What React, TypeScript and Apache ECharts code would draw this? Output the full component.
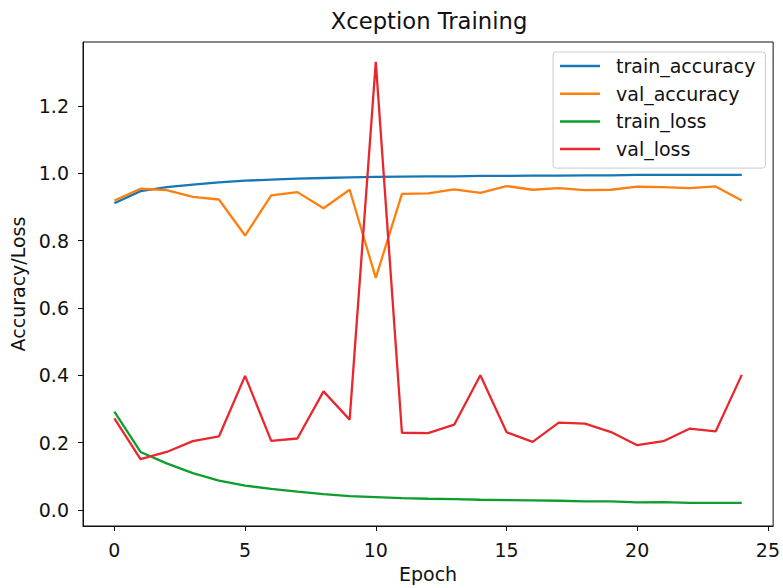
import React, { useEffect, useRef } from "react";
import * as echarts from "echarts";

const epochs: number[] = Array.from({ length: 25 }, (_, i) => i);

const trainAccuracy = [
  0.911, 0.947, 0.959, 0.966, 0.973, 0.978, 0.981, 0.984, 0.986, 0.988, 0.989,
  0.990, 0.991, 0.991, 0.992, 0.992, 0.993, 0.993, 0.994, 0.994, 0.995, 0.995,
  0.995, 0.995, 0.995,
];
const valAccuracy = [
  0.919, 0.954, 0.950, 0.930, 0.922, 0.815, 0.934, 0.944, 0.896, 0.951, 0.689,
  0.939, 0.940, 0.952, 0.942, 0.962, 0.951, 0.956, 0.950, 0.951, 0.960, 0.959,
  0.956, 0.961, 0.919,
];
const trainLoss = [
  0.292, 0.172, 0.138, 0.109, 0.087, 0.072, 0.062, 0.054, 0.047, 0.041, 0.038,
  0.035, 0.033, 0.032, 0.030, 0.029, 0.028, 0.027, 0.025, 0.025, 0.022, 0.023,
  0.021, 0.021, 0.021,
];
const valLoss = [
  0.272, 0.151, 0.172, 0.204, 0.218, 0.398, 0.205, 0.212, 0.352, 0.268, 1.331,
  0.229, 0.228, 0.253, 0.400, 0.231, 0.202, 0.259, 0.256, 0.231, 0.192, 0.204,
  0.241, 0.233, 0.401,
];

const xTicks = [0, 5, 10, 15, 20, 25];
const yTicks = [0, 0.2, 0.4, 0.6, 0.8, 1.0, 1.2];

const seriesNames = ["train_accuracy", "val_accuracy", "train_loss", "val_loss"];
const seriesValues = [trainAccuracy, valAccuracy, trainLoss, valLoss];
const colors = ["#1677b5", "#ff7f0e", "#0d9e2e", "#e8282e"];

const FONT = "DejaVu Sans";
const FS = 19;

export default function App() {
  const ref = useRef<HTMLDivElement>(null);
  useEffect(() => {
    document.body.style.margin = "0";
    if (!ref.current) return;
    const chart = echarts.init(ref.current, undefined, { renderer: "svg" });
    chart.setOption({
      animation: false,
      backgroundColor: "#ffffff",
      textStyle: { fontFamily: FONT },
      title: {
        text: "Xception Training",
        left: 429,
        textAlign: "center",
        top: 9,
        padding: 0,
        textStyle: { fontFamily: FONT, fontSize: 22.7, fontWeight: "normal", color: "#111" },
      },
      legend: {
        orient: "vertical",
        left: 553,
        top: 52,
        padding: [3, 10, 8, 7],
        backgroundColor: "#ffffff",
        borderColor: "#cccccc",
        borderWidth: 1,
        borderRadius: 3,
        itemWidth: 40,
        itemHeight: 2.5,
        itemGap: 5.7,
        icon: "rect",
        data: seriesNames,
        textStyle: {
          fontFamily: FONT,
          fontSize: FS,
          lineHeight: 22,
          color: "#111",
          padding: [0, 0, 0, 11],
        },
      },
      grid: {
        left: 83,
        top: 42,
        right: 8,
        bottom: 56,
        show: true,
        borderColor: "#111",
        borderWidth: 1,
        containLabel: false,
      },
      xAxis: {
        type: "value",
        min: -1.2,
        max: 25.2,
        name: "Epoch",
        nameLocation: "middle",
        nameGap: 38,
        nameTextStyle: { fontFamily: FONT, fontSize: FS, color: "#111" },
        axisLine: { show: true, onZero: false, lineStyle: { color: "#111" } },
        axisTick: {
          show: true,
          length: 5,
          customValues: xTicks,
          lineStyle: { color: "#111" },
        },
        axisLabel: {
          customValues: xTicks,
          margin: 14,
          fontFamily: FONT,
          fontSize: FS,
          color: "#111",
        },
        splitLine: { show: false },
      },
      yAxis: {
        type: "value",
        min: -0.048,
        max: 1.39,
        name: "Accuracy/Loss",
        nameLocation: "middle",
        nameGap: 54,
        nameTextStyle: { fontFamily: FONT, fontSize: FS, color: "#111" },
        axisLine: { show: true, onZero: false, lineStyle: { color: "#111" } },
        axisTick: {
          show: true,
          length: 5,
          customValues: yTicks,
          lineStyle: { color: "#111" },
        },
        axisLabel: {
          customValues: yTicks,
          margin: 14,
          fontFamily: FONT,
          fontSize: FS,
          color: "#111",
          formatter: (v: number) => v.toFixed(1),
        },
        splitLine: { show: false },
      },
      series: seriesNames.map((name, i) => ({
        name,
        type: "line",
        data: epochs.map((e, j) => [e, seriesValues[i][j]]),
        showSymbol: false,
        symbol: "none",
        color: colors[i],
        lineStyle: { width: 2.3, color: colors[i] },
        z: 2 + i,
      })),
    });
    return () => chart.dispose();
  }, []);
  return <div ref={ref} style={{ width: 783, height: 588 }} />;
}
